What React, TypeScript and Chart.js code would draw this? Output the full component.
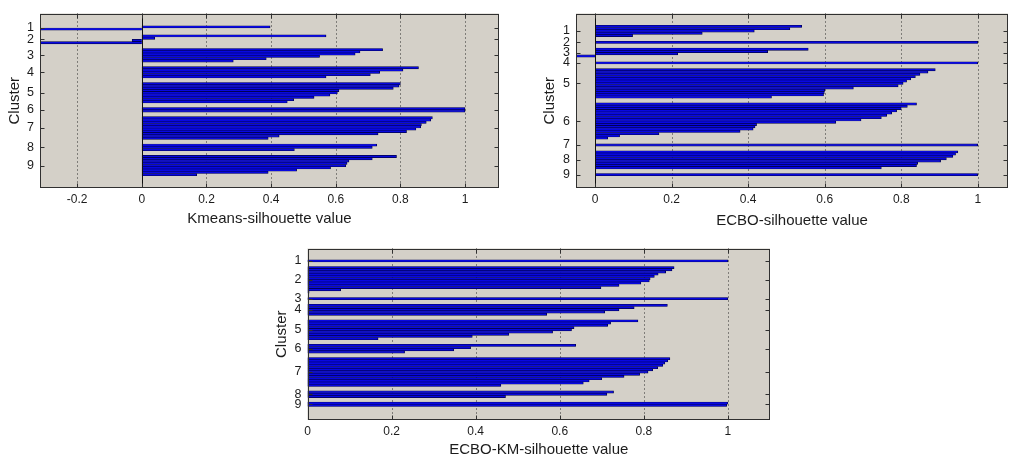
import React, { useEffect, useRef } from "react";
import { Chart, registerables } from "chart.js";

Chart.register(...registerables);

// ---------- DATA ----------
const CLUSTER_LABELS = ["1", "2", "3", "4", "5", "6", "7", "8", "9"];

// Kmeans silhouette values (sorted within each cluster)
const KM_C1 = [0.397, -0.314];
const KM_C2 = [0.57, 0.04, -0.03, -0.314];
const KM_C3 = [0.745, 0.675, 0.66, 0.55, 0.385, 0.283];
const KM_C4 = [0.856, 0.808, 0.736, 0.707, 0.57];
const KM_C5 = [0.8, 0.796, 0.778, 0.61, 0.605, 0.582, 0.533, 0.47, 0.45];
const KM_C6 = [1.0, 1.0];
const KM_C7 = [0.899, 0.894, 0.88, 0.865, 0.863, 0.848, 0.819, 0.731, 0.425, 0.391];
const KM_C8 = [0.727, 0.713, 0.472];
const KM_C9 = [0.788, 0.713, 0.641, 0.635, 0.631, 0.584, 0.479, 0.391, 0.17];

// ECBO silhouette values
const EC_C1 = [0.54, 0.509, 0.416, 0.28, 0.098];
const EC_C2 = [1.0];
const EC_C3 = [0.557, 0.451, 0.216, -0.05];
const EC_C4 = [1.0];
const EC_C5 = [0.889, 0.87, 0.849, 0.837, 0.825, 0.814, 0.805, 0.792, 0.675, 0.6, 0.599, 0.597, 0.461];
const EC_C6 = [0.84, 0.816, 0.8, 0.788, 0.775, 0.762, 0.748, 0.695, 0.629, 0.422, 0.418, 0.413, 0.379, 0.167, 0.064, 0.033];
const EC_C7 = [1.0];
const EC_C8 = [0.948, 0.942, 0.935, 0.918, 0.903, 0.843, 0.84, 0.748];
const EC_C9 = [1.0];

// ECBO-KM silhouette values
const EK_C1 = [1.0];
const EK_C2 = [0.872, 0.867, 0.852, 0.834, 0.825, 0.815, 0.813, 0.793, 0.741, 0.698, 0.079, 0.004];
const EK_C3 = [1.0];
const EK_C4 = [0.856, 0.777, 0.741, 0.707, 0.569];
const EK_C5 = [0.786, 0.721, 0.714, 0.634, 0.628, 0.583, 0.479, 0.392, 0.168];
const EK_C6 = [0.638, 0.388, 0.348, 0.231];
const EK_C7 = [0.862, 0.857, 0.85, 0.845, 0.833, 0.821, 0.81, 0.79, 0.753, 0.7, 0.67, 0.656, 0.46];
const EK_C8 = [0.728, 0.712, 0.471];
const EK_C9 = [1.0, 0.997];

const KM_X_TICKS = [-0.2, 0, 0.2, 0.4, 0.6, 0.8, 1];
const EC_X_TICKS = [0, 0.2, 0.4, 0.6, 0.8, 1];
const EK_X_TICKS = [0, 0.2, 0.4, 0.6, 0.8, 1];

const KM_TITLE = "Kmeans-silhouette value";
const EC_TITLE = "ECBO-silhouette value";
const EK_TITLE = "ECBO-KM-silhouette value";
const Y_TITLE = "Cluster";

// ---------- STYLE ----------
const FONT = "'Liberation Sans', Arial, Helvetica, sans-serif";
const TEXT = "#1c1c1c";
const PLOT_BG = "#d4d0c8";
const BAR_FILL = "#0808e0";
const BAR_EDGE = "#000048";
const AXIS = "#303030";
const GAP = 2; // empty slots between clusters (MATLAB silhouette spacing)

function layoutClusters(clusters: number[][]) {
  const points: { x: number; y: number }[] = [];
  const centers: number[] = [];
  let pos = 1;
  clusters.forEach((vals) => {
    centers.push(pos + (vals.length - 1) / 2);
    vals.forEach((v) => {
      points.push({ x: v, y: pos });
      pos += 1;
    });
    pos += GAP;
  });
  return { points, centers };
}

function framePlugin(xTicks: number[]) {
  return {
    id: "silFrame",
    beforeDatasetsDraw(chart: any) {
      const { ctx, chartArea: a, scales } = chart;
      ctx.save();
      ctx.fillStyle = PLOT_BG;
      ctx.fillRect(a.left, a.top, a.right - a.left, a.bottom - a.top);
      ctx.strokeStyle = "#2a2a2a";
      ctx.lineWidth = 1;
      ctx.setLineDash([1, 3]);
      xTicks.forEach((t) => {
        if (t === 0) return;
        const x = Math.round(scales.x.getPixelForValue(t)) + 0.5;
        ctx.beginPath();
        ctx.moveTo(x, a.top);
        ctx.lineTo(x, a.bottom);
        ctx.stroke();
      });
      ctx.restore();
    },
    afterDatasetsDraw(chart: any) {
      const { ctx, chartArea: a, scales } = chart;
      ctx.save();
      ctx.strokeStyle = AXIS;
      ctx.lineWidth = 1;
      // baseline at 0
      const x0 = Math.round(scales.x.getPixelForValue(0)) + 0.5;
      if (x0 > a.left + 1) {
        ctx.strokeStyle = "#101010";
        ctx.beginPath();
        ctx.moveTo(x0, a.top);
        ctx.lineTo(x0, a.bottom);
        ctx.stroke();
      }
      ctx.strokeStyle = AXIS;
      const L = Math.round(a.left) + 0.5;
      const R = Math.round(a.right) - 0.5;
      const T = Math.round(a.top) + 0.5;
      const B = Math.round(a.bottom) - 0.5;
      ctx.strokeRect(L, T, R - L, B - T);
      const tl = 4;
      ctx.beginPath();
      xTicks.forEach((t) => {
        const x = Math.round(scales.x.getPixelForValue(t)) + 0.5;
        ctx.moveTo(x, B);
        ctx.lineTo(x, B - tl);
        ctx.moveTo(x, T);
        ctx.lineTo(x, T + tl);
      });
      scales.y.ticks.forEach((tk: any) => {
        const y = Math.round(scales.y.getPixelForValue(tk.value)) + 0.5;
        ctx.moveTo(L, y);
        ctx.lineTo(L + tl, y);
        ctx.moveTo(R, y);
        ctx.lineTo(R - tl, y);
      });
      ctx.stroke();
      ctx.restore();
    },
  };
}

type Spec = {
  left: number;
  top: number;
  w: number;
  h: number;
  clusters: number[][];
  xTicks: number[];
  xMin: number;
  xMax: number;
  yMin: number;
  yMax: number;
  yAxisW: number;
  xAxisH: number;
  pad: { top: number; right: number };
  xTitle: string;
  xTitlePadBottom: number;
  yTitlePad: number;
};

const SPECS: Spec[] = [
  {
    left: 0, top: 0, w: 510, h: 235,
    clusters: [KM_C1, KM_C2, KM_C3, KM_C4, KM_C5, KM_C6, KM_C7, KM_C8, KM_C9],
    xTicks: KM_X_TICKS, xMin: -0.315, xMax: 1.105, yMin: -0.6, yMax: 67.6,
    yAxisW: 40, xAxisH: 47, pad: { top: 8, right: 11 },
    xTitle: KM_TITLE, xTitlePadBottom: 7, yTitlePad: 6,
  },
  {
    left: 520, top: 0, w: 489, h: 235,
    clusters: [EC_C1, EC_C2, EC_C3, EC_C4, EC_C5, EC_C6, EC_C7, EC_C8, EC_C9],
    xTicks: EC_X_TICKS, xMin: -0.05, xMax: 1.079, yMin: -0.4, yMax: 67.6,
    yAxisW: 56, xAxisH: 47, pad: { top: 8, right: 1 },
    xTitle: EC_TITLE, xTitlePadBottom: 5, yTitlePad: 21,
  },
  {
    left: 260, top: 235, w: 520, h: 226,
    clusters: [EK_C1, EK_C2, EK_C3, EK_C4, EK_C5, EK_C6, EK_C7, EK_C8, EK_C9],
    xTicks: EK_X_TICKS, xMin: 0, xMax: 1.1, yMin: -0.28, yMax: 68.3,
    yAxisW: 47.5, xAxisH: 41, pad: { top: 10, right: 10 },
    xTitle: EK_TITLE, xTitlePadBottom: 2, yTitlePad: 13,
  },
];

function fmt(v: number) {
  return String(Number(v.toFixed(2)));
}

function SilChart({ spec }: { spec: Spec }) {
  const ref = useRef<HTMLCanvasElement>(null);
  useEffect(() => {
    if (!ref.current) return;
    const { points, centers } = layoutClusters(spec.clusters);
    const chart = new Chart(ref.current, {
      type: "bar",
      data: {
        datasets: [
          {
            data: points as any,
            backgroundColor: BAR_FILL,
            borderColor: BAR_EDGE,
            borderWidth: { top: 0.6, bottom: 0.6, left: 0.8, right: 0.8 } as any,
            inflateAmount: 0.3,
            barPercentage: 1,
            categoryPercentage: 1,
          },
        ],
      },
      options: {
        indexAxis: "y",
        animation: false,
        responsive: false,
        events: [],
        layout: { padding: { left: 0, right: spec.pad.right, top: spec.pad.top, bottom: 0 } },
        plugins: { legend: { display: false }, tooltip: { enabled: false } },
        scales: {
          x: {
            type: "linear",
            min: spec.xMin,
            max: spec.xMax,
            grid: { display: false, drawTicks: false },
            border: { display: false },
            afterBuildTicks: (s: any) => {
              s.ticks = spec.xTicks.map((v) => ({ value: v }));
            },
            afterFit: (s: any) => {
              s.height = spec.xAxisH;
            },
            ticks: {
              autoSkip: false,
              maxRotation: 0,
              padding: 4,
              color: TEXT,
              font: { family: FONT, size: 12 },
              callback: (v: any) => fmt(Number(v)),
            },
            title: {
              display: true,
              text: spec.xTitle,
              color: TEXT,
              font: { family: FONT, size: 15 },
              padding: { top: 0, bottom: spec.xTitlePadBottom },
            },
          },
          y: {
            type: "linear",
            reverse: true,
            min: spec.yMin,
            max: spec.yMax,
            grid: { display: false, drawTicks: false },
            border: { display: false },
            afterBuildTicks: (s: any) => {
              s.ticks = centers.map((v) => ({ value: v }));
            },
            afterFit: (s: any) => {
              s.width = spec.yAxisW;
            },
            ticks: {
              autoSkip: false,
              padding: 6,
              color: TEXT,
              font: { family: FONT, size: 12.5 },
              callback: (_v: any, i: number) => CLUSTER_LABELS[i],
            },
            title: {
              display: true,
              text: Y_TITLE,
              color: TEXT,
              font: { family: FONT, size: 15 },
              padding: { top: spec.yTitlePad, bottom: 0 },
            },
          },
        },
      } as any,
      plugins: [framePlugin(spec.xTicks) as any],
    });
    return () => chart.destroy();
  }, [spec]);
  return (
    <canvas
      ref={ref}
      width={spec.w}
      height={spec.h}
      style={{ position: "absolute", left: spec.left, top: spec.top, width: spec.w, height: spec.h, display: "block" }}
    />
  );
}

export default function App() {
  return (
    <div
      style={{
        position: "absolute",
        left: 0,
        top: 0,
        width: 1009,
        height: 461,
        background: "#ffffff",
        overflow: "hidden",
      }}
    >
      {SPECS.map((s, i) => (
        <SilChart key={i} spec={s} />
      ))}
    </div>
  );
}
